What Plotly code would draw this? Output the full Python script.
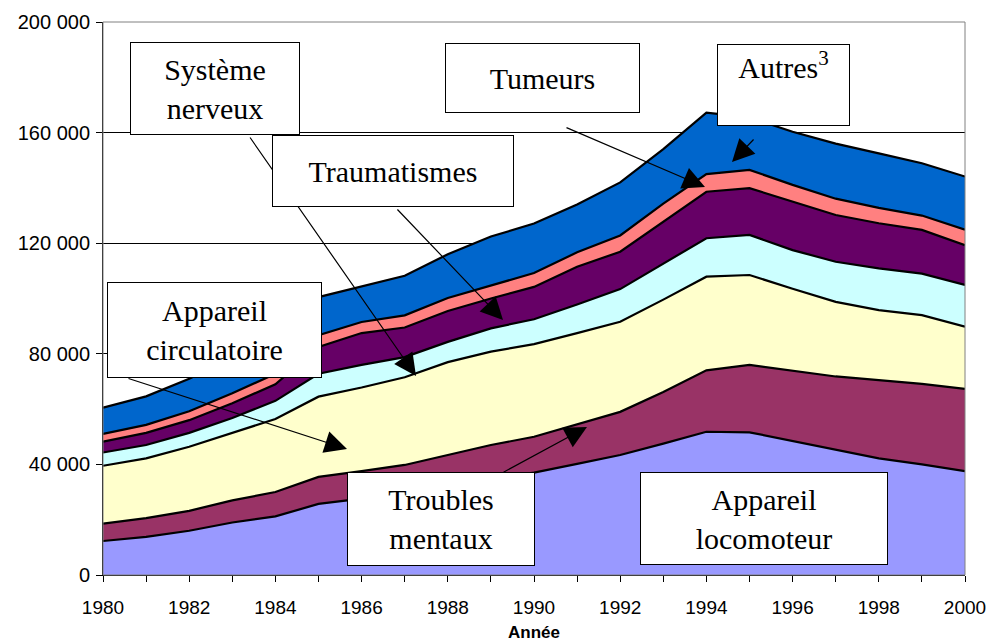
import plotly.graph_objects as go

years = list(range(1980, 2001))

# Values per category (cases)
appareil_locomoteur = [12300, 13800, 16000, 19000, 21200, 25700, 27600, 29500, 32000, 34500, 37000,
                       40200, 43400, 47500, 51800, 51600, 48500, 45200, 42200, 40000, 37600]
troubles_mentaux = [6300, 6800, 7200, 8000, 8800, 9800, 10000, 10300, 11400, 12500, 13000,
                    14300, 15600, 18700, 22200, 24400, 25300, 26600, 28300, 29100, 29700]
appareil_circulatoire = [20900, 21600, 23200, 24500, 26400, 29000, 30200, 31700, 33600, 33800, 33500,
                         33000, 32600, 33400, 33900, 32500, 29700, 27000, 25300, 24900, 22500]
systeme_nerveux = [4800, 4800, 5000, 5300, 6600, 8300, 8200, 7300, 7300, 8400, 9000,
                   10300, 11800, 13100, 13900, 14500, 14000, 14500, 15100, 15000, 15100]
traumatismes = [3900, 4400, 4600, 5300, 6000, 9700, 11500, 10700, 11200, 10800, 11700,
                13700, 13500, 15100, 16800, 16900, 17500, 16900, 16300, 15800, 14400]
tumeurs = [2800, 2900, 3200, 3600, 3800, 4200, 4000, 4400, 4700, 4700, 5000,
           5200, 5900, 6500, 6400, 6600, 6100, 5900, 5600, 5200, 5600]
autres = [9500, 10300, 11800, 12800, 13200, 13800, 12800, 14300, 15800, 17700, 17900,
          17300, 19200, 19700, 22200, 19000, 19200, 19900, 19700, 18900, 19200]

series_names = ["Appareil locomoteur", "Troubles mentaux", "Appareil circulatoire",
                "Système nerveux", "Traumatismes", "Tumeurs", "Autres"]
series_values = [appareil_locomoteur, troubles_mentaux, appareil_circulatoire,
                 systeme_nerveux, traumatismes, tumeurs, autres]
series_colors = ["#9999FF", "#993366", "#FFFFCC", "#CCFFFF", "#660066", "#FF8080", "#0066CC"]

y_ticks = [0, 40000, 80000, 120000, 160000, 200000]
x_ticks = list(range(1980, 2001, 2))

fig = go.Figure()
for name, vals, col in zip(series_names, series_values, series_colors):
    fig.add_trace(go.Scatter(
        x=years, y=vals, name=name, mode="lines", stackgroup="one",
        line=dict(color="black", width=2.2), fillcolor=col, showlegend=False,
    ))

W, H = 990, 642
L, R, T, B = 103, 25, 22, 67
PW, PH = W - L - R, H - T - B


def px(xp):
    return (xp - L) / PW


def py(yp):
    return (H - B - yp) / PH


serif = "Liberation Serif, Times New Roman, serif"
annots = []

# Label boxes: (text, left, top, right, bottom) in pixels
boxes = [
    ("Système<br>nerveux", 130, 42, 300, 135, "middle", 0),
    ("Tumeurs", 445, 43, 640, 113, "middle", 0),
    ("Autres<sup>3</sup>", 717, 44, 850, 126, "top", -5),
    ("Traumatismes", 272, 135, 514, 207, "middle", 0),
    ("Appareil<br>circulatoire", 107, 282, 322, 378, "middle", 0),
    ("Troubles<br>mentaux", 347, 472, 535, 566, "middle", 0),
    ("Appareil<br>locomoteur", 640, 472, 888, 565, "middle", 0),
]

# Arrows: (tail_x, tail_y, tip_x, tip_y) in pixels
arrows = [
    (249, 136, 416, 376),
    (396, 208, 503, 320),
    (565, 127, 705, 187),
    (755, 138, 732, 162),
    (127, 378, 347, 449),
    (502, 473, 587, 427),
]
for tx, ty, hx, hy in arrows:
    annots.append(dict(
        xref="paper", yref="paper", x=px(hx), y=py(hy), ax=tx - hx, ay=ty - hy,
        text="", showarrow=True, arrowhead=2, arrowsize=3.7, arrowwidth=1.2,
        arrowcolor="black", standoff=0, startstandoff=0,
    ))

for text, x0, y0, x1, y1, va, shift in boxes:
    annots.append(dict(
        xref="paper", yref="paper", x=px((x0 + x1) / 2), y=py((y0 + y1) / 2),
        xanchor="center", yanchor="middle", text=text, showarrow=False,
        width=x1 - x0 - 4, height=y1 - y0 - 4, valign=va,
        bgcolor="white", bordercolor="black", borderwidth=1, borderpad=1,
        font=dict(family=serif, size=30, color="black"),
    ))

fig.update_layout(
    width=W, height=H,
    margin=dict(l=L, r=R, t=T, b=B, autoexpand=False),
    paper_bgcolor="white", plot_bgcolor="white",
    separators=". ",
    font=dict(family="Liberation Sans, Arial, sans-serif", color="black"),
    annotations=annots,
    shapes=[dict(type="rect", xref="paper", yref="paper", x0=0, y0=0, x1=1, y1=1,
                 line=dict(color="#808080", width=1), layer="above")],
    xaxis=dict(
        range=[1980, 2000], tickvals=x_ticks, ticktext=[str(v) for v in x_ticks],
        ticks="outside", ticklen=6, tickcolor="black", showgrid=False, zeroline=False,
        showline=True, linecolor="black", linewidth=1, automargin=False,
        tickfont=dict(size=19), ticklabelstandoff=9,
        minor=dict(tickvals=years, ticks="outside", ticklen=6, tickcolor="black", showgrid=False),
        title=dict(text="<b>Année</b>", font=dict(size=17), standoff=10),
    ),
    yaxis=dict(
        range=[0, 200000], tickvals=y_ticks, tickformat=",d",
        ticks="outside", ticklen=6, tickcolor="black",
        showgrid=True, gridcolor="black", gridwidth=1, zeroline=False,
        showline=True, linecolor="black", linewidth=1, automargin=False,
        tickfont=dict(size=20), ticklabelstandoff=2,
    ),
)

fig.write_html("out.html", config={"displayModeBar": False},
               post_script="document.body.style.margin='0';")
